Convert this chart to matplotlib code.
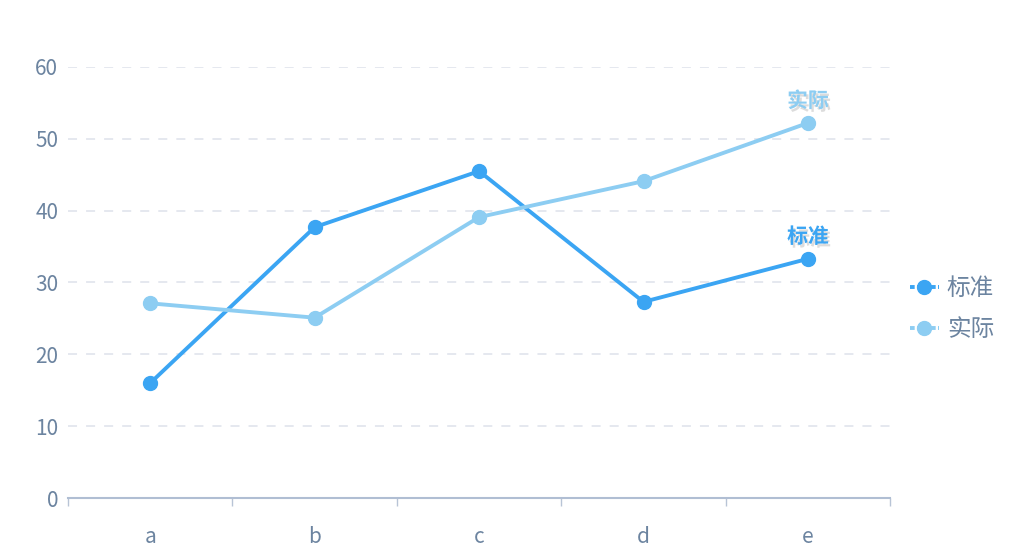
import matplotlib
matplotlib.use("Agg")
import matplotlib.pyplot as plt
import matplotlib.patheffects as pe
from matplotlib.lines import Line2D

plt.rcParams['font.family'] = ['Noto Sans CJK SC', 'DejaVu Sans']

categories = ['a', 'b', 'c', 'd', 'e']
standard = [16, 37.7, 45.5, 27.3, 33.3]
actual = [27.1, 25.1, 39.1, 44.1, 52.2]
series_names = ['标准', '实际']

c_std = '#3BA5F3'
c_act = '#8DCDF2'
txt = '#6C84A0'

fig = plt.figure(figsize=(10.29, 5.58), dpi=100)
ax = fig.add_axes([0.0661, 0.1075, 0.799, 0.7725])

x = range(len(categories))
ax.plot(x, standard, color=c_std, lw=2.8, marker='o', ms=10, zorder=3)
ax.plot(x, actual, color=c_act, lw=2.8, marker='o', ms=10, zorder=3)

# end-of-line labels with a soft shadow
for vals, col, name in [(standard, c_std, series_names[0]), (actual, c_act, series_names[1])]:
    ax.annotate(name, (len(categories) - 1, vals[-1]), xytext=(0, 16), textcoords='offset points',
                ha='center', va='center', fontsize=15, fontweight='bold', color=col,
                path_effects=[pe.SimplePatchShadow(offset=(1.5, -2), shadow_rgbFace='#777777', alpha=0.25),
                              pe.Normal()])

ax.set_xlim(-0.5, 4.5)
ax.set_ylim(0, 60)
ax.set_yticks(range(0, 61, 10))
ax.set_xticks(x)
ax.set_xticklabels(categories)
ax.set_xticks([i - 0.5 for i in range(len(categories) + 1)], minor=True)
ax.tick_params(axis='x', which='major', length=0, pad=20, labelsize=15, labelcolor=txt)
ax.tick_params(axis='x', which='minor', length=6, color='#B8C4D6', width=1)
ax.tick_params(axis='y', length=0, pad=7, labelsize=15, labelcolor=txt)

ax.grid(axis='y', color='#E3E6EE', lw=1.3, dashes=(5, 5))
ax.set_axisbelow(True)
for s in ['top', 'right', 'left']:
    ax.spines[s].set_visible(False)
ax.spines['bottom'].set_color('#B0BED3')
ax.spines['bottom'].set_linewidth(1.5)

handles = [Line2D([], [], color=c_std, lw=2.8, marker='o', ms=10, ls=(0, (1.2, 0.6))),
           Line2D([], [], color=c_act, lw=2.8, marker='o', ms=10, ls=(0, (1.2, 0.6)))]
leg = fig.legend(handles, series_names, loc='center left', bbox_to_anchor=(0.864, 0.446),
                 frameon=False, fontsize=17, handlelength=1.2, handletextpad=0.35, labelspacing=0.75,
                 labelcolor=txt)

fig.savefig('out.png', dpi=100)
